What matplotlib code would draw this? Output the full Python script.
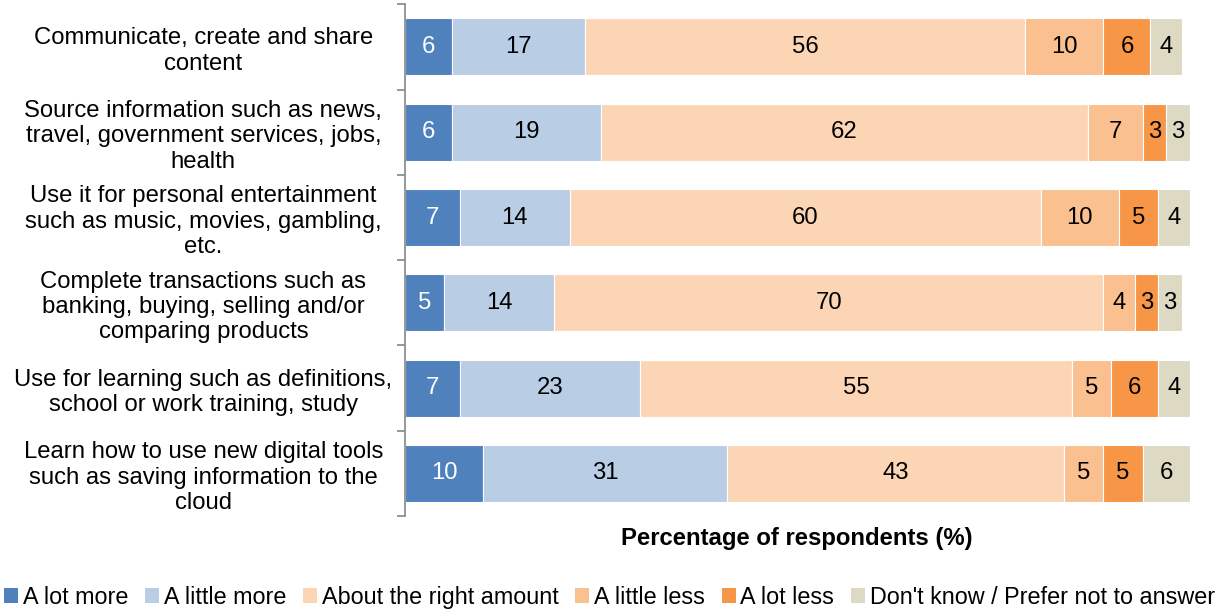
import numpy as np
import matplotlib.pyplot as plt
from matplotlib.patches import Patch

plt.rcParams['font.family'] = ['Liberation Sans', 'DejaVu Sans']

categories = [
    "Communicate, create and share\ncontent",
    "Source information such as news,\ntravel, government services, jobs,\nhealth",
    "Use it for personal entertainment\nsuch as music, movies, gambling,\netc.",
    "Complete transactions such as\nbanking, buying, selling and/or\ncomparing products",
    "Use for learning such as definitions,\nschool or work training, study",
    "Learn how to use new digital tools\nsuch as saving information to the\ncloud",
]
series = ["A lot more", "A little more", "About the right amount",
          "A little less", "A lot less", "Don't know / Prefer not to answer"]
a_lot_more = [6, 6, 7, 5, 7, 10]
a_little_more = [17, 19, 14, 14, 23, 31]
about_right = [56, 62, 60, 70, 55, 43]
a_little_less = [10, 7, 10, 4, 5, 5]
a_lot_less = [6, 3, 5, 3, 6, 5]
dont_know = [4, 3, 4, 3, 4, 6]

colors = ["#4F81BD", "#B9CDE5", "#FCD5B5", "#FAC090", "#F79646", "#DDD9C3"]
text_colors = ["white", "black", "black", "black", "black", "black"]

values = np.array([a_lot_more, a_little_more, about_right,
                   a_little_less, a_lot_less, dont_know], dtype=float)

fs = 17.2
fig = plt.figure(figsize=(12.19, 6.1), dpi=100)
ax = fig.add_axes([0.332, 0.154, 0.644, 0.839])

y = np.arange(len(categories))
left = np.zeros(len(categories))
for vals, name, col, tcol in zip(values, series, colors, text_colors):
    bars = ax.barh(y, vals, left=left, height=0.67, color=col,
                   edgecolor="white", linewidth=0.8, label=name)
    ax.bar_label(bars, labels=[f"{v:g}" for v in vals], label_type="center",
                 color=tcol, fontsize=fs)
    left += vals

ax.set_ylim(len(categories) - 0.5, -0.5)
ax.set_xlim(0, 100)
ax.set_yticks(y)
ax.set_yticklabels(categories, fontsize=fs, ha="center", linespacing=1.2)
ax.tick_params(axis="y", which="major", length=0, pad=145)
ax.set_yticks(np.arange(-0.5, len(categories)), minor=True)
ax.tick_params(axis="y", which="minor", length=6, color="#868686", width=1.2)
ax.set_xticks([])
for s in ["top", "right", "bottom"]:
    ax.spines[s].set_visible(False)
ax.spines["left"].set_color("#868686")
ax.spines["left"].set_linewidth(1.2)
ax.set_xlabel("Percentage of respondents (%)", fontsize=fs, fontweight="bold",
              labelpad=8)

handles = [Patch(facecolor=c, edgecolor="none") for c in colors]
fig.legend(handles, series, loc="center", bbox_to_anchor=(0.5, 0.021), ncol=6,
           frameon=False, fontsize=16.8, handlelength=0.6, handleheight=0.6,
           handletextpad=0.2, columnspacing=0.72, borderaxespad=0)

fig.savefig("out.png", dpi=100)
